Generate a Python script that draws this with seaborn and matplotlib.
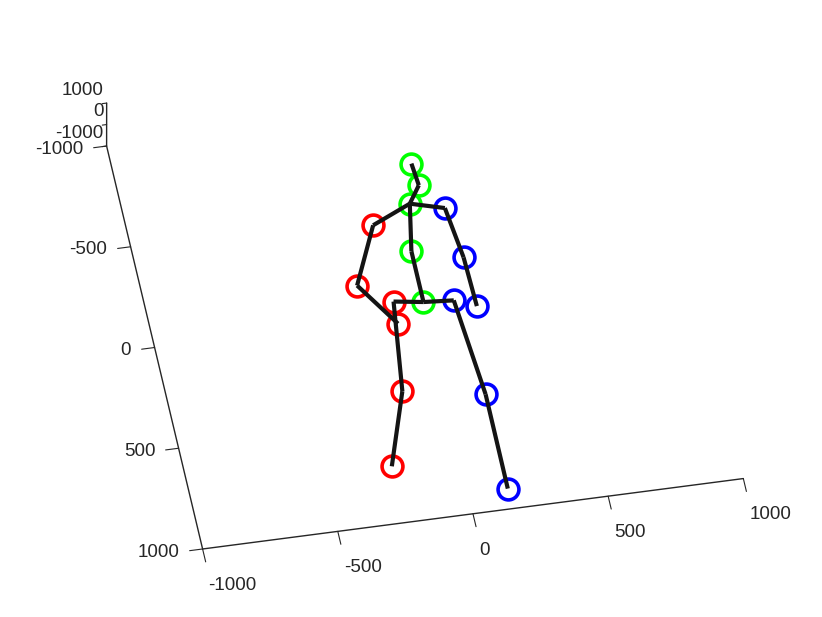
import numpy as np
import matplotlib
matplotlib.use('Agg')
import matplotlib.pyplot as plt
import seaborn as sns

sns.set_style('white')
plt.rcParams['font.family'] = ['Liberation Sans', 'DejaVu Sans']
plt.rcParams['axes.unicode_minus'] = False

# joints: horizontal, depth, vertical (vertical axis points down)
joint_names = ['head', 'nose', 'thorax', 'spine', 'hip',
               'r_shoulder', 'r_elbow', 'r_wrist', 'r_hip', 'r_knee', 'r_ankle',
               'l_shoulder', 'l_elbow', 'l_wrist', 'l_hip', 'l_knee', 'l_ankle']
joint_x = [60, 68, 20, -15, -15, -130, -239, -125, -122, -167, -269, 142, 167, 173, 95, 129, 128]
joint_y = [-621, -512, -429, -199, 53, -348, -68, 141, 32, 469, 824, -386, -137, 106, 64, 536, 1004]
joint_d = [0, 0, 0, 0, 0, 0, 0, 0, 0, 0, 0, 0, 0, 0, 0, 0, 0]
joint_side = ['c'] * 5 + ['r'] * 6 + ['l'] * 6
bones = [(0, 1), (1, 2), (2, 3), (3, 4), (2, 5), (5, 6), (6, 7), (4, 8), (8, 9), (9, 10),
         (2, 11), (11, 12), (12, 13), (4, 14), (14, 15), (15, 16)]
ticks = [-1000, -500, 0, 500, 1000]
depth_ticks = [-1000, 0, 1000]

side_colors = {'c': (0, 1, 0), 'r': (1, 0, 0), 'l': (0, 0, 1)}

fig = plt.figure(figsize=(8.22, 6.17), dpi=100)
ax = fig.add_axes([0.0579, 0.0665, 0.9, 0.9], projection='3d')
ax.computed_zorder = False
ax.set_proj_type('ortho')

for s in ['c', 'r', 'l']:
    idx = [i for i in range(len(joint_names)) if joint_side[i] == s]
    ax.plot([joint_x[i] for i in idx], [joint_d[i] for i in idx], [joint_y[i] for i in idx],
            linestyle='none', marker='o', markersize=15, mfc='none', mew=2.6,
            mec=side_colors[s], zorder=2)

for a, b in bones:
    ax.plot([joint_x[a], joint_x[b]], [joint_d[a], joint_d[b]], [joint_y[a], joint_y[b]],
            color='#141414', lw=3, zorder=3, solid_capstyle='butt')

ax.set_xlim(-1000, 1000)
ax.set_ylim(-1000, 1000)
ax.set_zlim(1000, -1000)
ax.set_xticks(ticks)
ax.set_zticks(ticks)
ax.set_yticks(depth_ticks)
ax.set_box_aspect((1, 0.1165, 1.0057), zoom=1.366)
ax.view_init(elev=41.4, azim=-81.0, roll=13.4)

# put the vertical and depth axes on the left edges, ticks pointing outwards
ax.yaxis.set_ticks_position('lower')
ax.zaxis.set_ticks_position('lower')
ax.xaxis._get_tickdir = lambda position=None: 2
ax.zaxis._get_tickdir = lambda position=None: 0
ax.zaxis._axmask = lambda: [True, False, False]
ax.yaxis._axmask = lambda: [False, False, True]

ax.grid(False)
for axis, out in [(ax.xaxis, 0.4), (ax.yaxis, 0.1), (ax.zaxis, 0.3)]:
    axis.set_pane_color((1, 1, 1, 0))
    axis.line.set_color('#262626')
    axis.line.set_linewidth(1.0)
    axis._axinfo['tick']['inward_factor'] = 0
    axis._axinfo['tick']['outward_factor'] = out
    axis._axinfo['tick']['color'] = '#262626'
ax.tick_params(labelsize=13.5, colors='#262626')
ax.tick_params(axis='x', pad=5)
ax.tick_params(axis='y', pad=-1.5)
ax.tick_params(axis='z', pad=1)

for t in ax.get_xticklabels():
    t.set_ha('left')
for t in ax.get_yticklabels():
    t.set_ha('right')
    t.set_va('center')
for t in ax.get_zticklabels():
    t.set_ha('right')
    t.set_va('center')

fig.savefig('out.png', dpi=100)
